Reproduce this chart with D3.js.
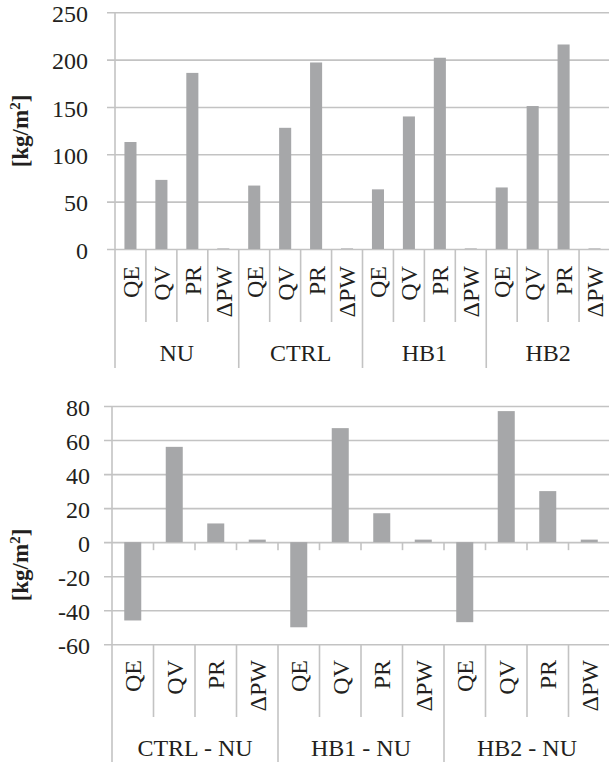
<!DOCTYPE html>
<html>
<head>
<meta charset="utf-8">
<script src="https://cdn.jsdelivr.net/npm/d3@7"></script>
<style>
  html, body { margin: 0; padding: 0; background: #fff; }
  svg { display: block; }
</style>
</head>
<body>
<svg id="chart" width="609" height="764"></svg>
<script>
// ---- Data ----
const variables = ["QE", "QV", "PR", "ΔPW"];

const groupsTop = ["NU", "CTRL", "HB1", "HB2"];
const valsNU   = [113, 73, 186, 0.6];
const valsCTRL = [67, 128, 197, 0.6];
const valsHB1  = [63, 140, 202, 0.6];
const valsHB2  = [65, 151, 216, 0.6];
const topTicks = [0, 50, 100, 150, 200, 250];

const groupsBottom = ["CTRL - NU", "HB1 - NU", "HB2 - NU"];
const diffCTRL = [-46, 56, 11, 1.5];
const diffHB1  = [-50, 67, 17, 1.5];
const diffHB2  = [-47, 77, 30, 1.5];
const bottomTicks = [-60, -40, -20, 0, 20, 40, 60, 80];

const yTitle = "[kg/m";

// ---- Style ----
const FONT = "Liberation Serif";
const barColor = "#a6a7a9";
const gridColor = "#c3c3c3";
const textColor = "#231f20";
const textSize = 24;

const svg = d3.select("#chart");

function styleText(sel, size) {
  return sel.attr("font-family", FONT).style("font-family", FONT)
    .attr("font-size", size).style("font-size", size + "px")
    .attr("fill", textColor).style("fill", textColor);
}

function drawPanel(opts) {
  const { groups, series, ticks, domain, left, right, yTop, yBottom,
          zeroTicks, catLineEnd, groupLineEnd, labelTop, groupBase, titleY, labelRight, barFrac } = opts;
  const rows = [];
  groups.forEach((g, gi) => variables.forEach((v, vi) => rows.push({ key: g + "|" + v, g, v, value: series[gi][vi] })));

  const x = d3.scaleBand().domain(rows.map(d => d.key)).range([left, right]).padding(0);
  const y = d3.scaleLinear().domain(domain).range([yBottom, yTop]);
  const bw = x.bandwidth();

  // gridlines + tick labels via axis
  const axis = d3.axisLeft(y).tickValues(ticks).tickSize(-(right - left)).tickPadding(0)
    .tickFormat(d => String(d));
  const ag = svg.append("g").attr("transform", `translate(${left},0)`).call(axis);
  ag.attr("font-family", FONT).attr("font-size", textSize);
  ag.select(".domain").remove();
  ag.selectAll(".tick line").attr("x1", -8).attr("stroke", gridColor).attr("stroke-width", 1.6);
  styleText(ag.selectAll(".tick text"), textSize)
    .attr("x", labelRight - left).attr("dy", "0.38em")
    .attr("text-anchor", "end");

  // left axis line
  svg.append("line").attr("x1", left).attr("x2", left).attr("y1", yTop).attr("y2", groupLineEnd)
    .attr("stroke", gridColor).attr("stroke-width", 1.6);

  // bars
  const w = bw * barFrac;
  svg.append("g").selectAll("rect").data(rows).join("rect")
    .attr("x", d => x(d.key) + (bw - w) / 2)
    .attr("width", w)
    .attr("y", d => y(Math.max(0, d.value)))
    .attr("height", d => Math.abs(y(d.value) - y(0)))
    .attr("fill", barColor);

  // small ticks on zero line (bottom panel)
  if (zeroTicks) {
    svg.append("g").selectAll("line").data(rows.slice(1)).join("line")
      .attr("x1", d => x(d.key)).attr("x2", d => x(d.key))
      .attr("y1", y(0)).attr("y2", y(0) + 8)
      .attr("stroke", gridColor).attr("stroke-width", 1.6);
  }

  // category separators
  svg.append("g").selectAll("line").data(rows.slice(1)).join("line")
    .attr("x1", d => x(d.key)).attr("x2", d => x(d.key))
    .attr("y1", yBottom)
    .attr("y2", d => variables.indexOf(d.v) === 0 ? groupLineEnd : catLineEnd)
    .attr("stroke", gridColor).attr("stroke-width", 1.6);

  // category labels (rotated)
  styleText(svg.append("g").selectAll("text").data(rows).join("text"), textSize)
    .attr("transform", d => `translate(${x(d.key) + bw / 2},${labelTop}) rotate(-90)`)
    .attr("text-anchor", "end")
    .attr("dy", "0.35em")
    .text(d => d.v);

  // group labels
  styleText(svg.append("g").selectAll("text").data(groups).join("text"), textSize)
    .attr("x", g => x(g + "|" + variables[0]) + bw * variables.length / 2)
    .attr("y", groupBase)
    .attr("text-anchor", "middle")
    .text(g => g);

  // y title
  const t = styleText(svg.append("text"), 23)
    .attr("transform", `translate(20,${titleY}) rotate(-90)`)
    .attr("text-anchor", "middle")
    .attr("dy", "0.35em")
    .attr("font-weight", "bold").style("font-weight", "bold");
  t.append("tspan").text(yTitle);
  t.append("tspan").attr("baseline-shift", "super").style("font-size", "15px").text("2");
  t.append("tspan").text("]");
}

drawPanel({
  groups: groupsTop, series: [valsNU, valsCTRL, valsHB1, valsHB2],
  ticks: topTicks, domain: [0, 250],
  left: 115, right: 610, yTop: 12.3, yBottom: 249,
  zeroTicks: false, catLineEnd: 322, groupLineEnd: 368,
  labelTop: 266, groupBase: 361, titleY: 131, labelRight: 88, barFrac: 0.39
});

drawPanel({
  groups: groupsBottom, series: [diffCTRL, diffHB1, diffHB2],
  ticks: bottomTicks, domain: [-60, 80],
  left: 112, right: 610, yTop: 406, yBottom: 644.3,
  zeroTicks: true, catLineEnd: 717, groupLineEnd: 762,
  labelTop: 660, groupBase: 756, titleY: 565, labelRight: 90, barFrac: 0.41
});
</script>
</body>
</html>
